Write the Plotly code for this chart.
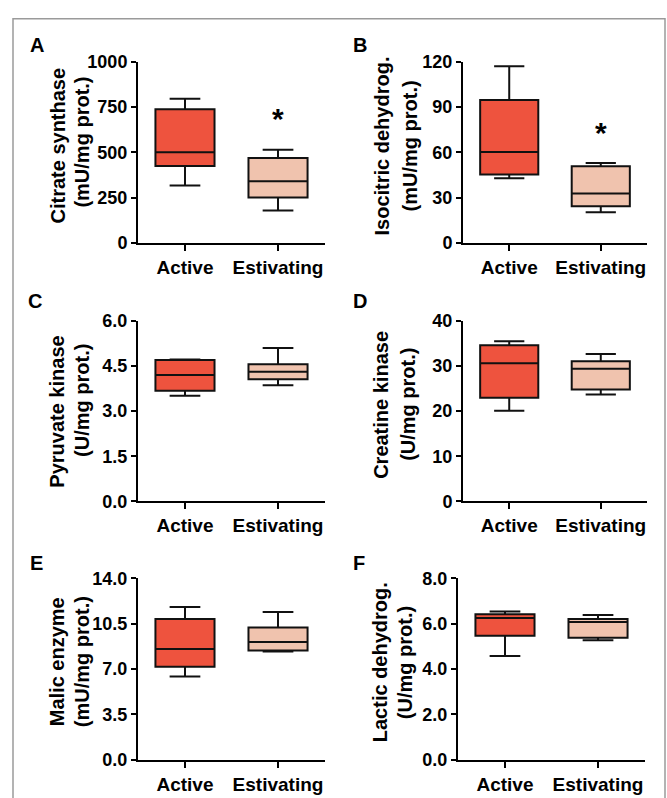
import plotly.graph_objects as go

W, H = 667, 798

groups = ["Active", "Estivating"]
colors = ["#EE533E", "#F0C3AE"]

panel_letters = ["A", "B", "C", "D", "E", "F"]
title_line1 = ["Citrate synthase", "Isocitric dehydrog.", "Pyruvate kinase",
               "Creatine kinase", "Malic enzyme", "Lactic dehydrog."]
title_line2 = ["(mU/mg prot.)", "(mU/mg prot.)", "(U/mg prot.)",
               "(U/mg prot.)", "(mU/mg prot.)", "(U/mg prot.)"]

y_max = [1000, 120, 6.0, 40, 14.0, 8.0]
y_ticks = [[0, 250, 500, 750, 1000], [0, 30, 60, 90, 120], [0, 1.5, 3.0, 4.5, 6.0],
           [0, 10, 20, 30, 40], [0, 3.5, 7.0, 10.5, 14.0], [0, 2.0, 4.0, 6.0, 8.0]]
y_fmt = ["d", "d", ".1f", "d", ".1f", ".1f"]

# [Active, Estivating] for each panel
lower = [[317, 179], [42.8, 20.4], [3.51, 3.86], [20.1, 23.7], [6.42, 8.35], [4.58, 5.27]]
q1 = [[425, 251], [45.4, 24.3], [3.68, 4.06], [23.0, 24.8], [7.17, 8.43], [5.47, 5.38]]
median = [[500, 340], [60.2, 32.7], [4.20, 4.31], [30.65, 29.4], [8.55, 9.08], [6.25, 6.08]]
q3 = [[738, 469], [94.6, 50.8], [4.70, 4.56], [34.6, 31.1], [10.86, 10.21], [6.42, 6.21]]
upper = [[796, 514], [117, 52.9], [4.72, 5.10], [35.5, 32.7], [11.79, 11.41], [6.54, 6.38]]

# significance markers: (panel index, group, y value)
stars = [(0, "Estivating", 685), (1, "Estivating", 73)]

# layout geometry in pixels: (x_left, x_right, y_top, y_bottom)
boxes_px = [(138, 325, 53, 239), (463, 647, 53, 239),
            (138, 325, 319, 504), (463, 647, 319, 504),
            (138, 325, 583, 769), (458, 645, 583, 769)]
letter_px = [(37, 36), (360, 36), (35, 298), (360, 298), (36, 567), (359, 567)]
t1_px = [(58, 139), (382, 140), (57, 412), (381, 405), (57, 669), (380, 669)]
t2_px = [(82, 136), (410, 140), (82, 401), (408, 405), (82, 669), (405, 670)]

FONT = "Liberation Sans, Arial, sans-serif"

fig = go.Figure()
layout = dict(
    width=W, height=H, margin=dict(l=0, r=0, t=0, b=0),
    paper_bgcolor="white", plot_bgcolor="white", showlegend=False,
    font=dict(family=FONT, color="black"),
)
annotations = []

for i in range(6):
    sfx = "" if i == 0 else str(i + 1)
    xl, xr, yt, yb = boxes_px[i]
    for g in range(2):
        fig.add_trace(go.Box(
            x=[groups[g]], q1=[q1[i][g]], median=[median[i][g]], q3=[q3[i][g]],
            lowerfence=[lower[i][g]], upperfence=[upper[i][g]],
            fillcolor=colors[g], line=dict(color="#111111", width=2),
            width=0.635, whiskerwidth=0.52, boxpoints=False,
            xaxis="x" + sfx, yaxis="y" + sfx, hoverinfo="skip",
        ))
    layout["xaxis" + sfx] = dict(
        domain=[xl / W, xr / W], anchor="y" + sfx, type="category",
        categoryorder="array", categoryarray=groups, range=[-0.505, 1.505],
        showline=True, linecolor="black", linewidth=2, ticks="outside",
        ticklen=6, tickwidth=2, tickcolor="black", showgrid=False, zeroline=False,
        tickfont=dict(family=FONT, size=19, color="black", weight="bold"),
    )
    layout["yaxis" + sfx] = dict(
        domain=[1 - yb / H, 1 - yt / H], anchor="x" + sfx, range=[0, y_max[i]],
        tickvals=y_ticks[i], tickformat=y_fmt[i],
        showline=True, linecolor="black", linewidth=2, ticks="outside",
        ticklen=5, tickwidth=2, tickcolor="black", showgrid=False, zeroline=False,
        tickfont=dict(family=FONT, size=18, color="black", weight="bold"),
    )
    lx, ly = letter_px[i]
    annotations.append(dict(text=panel_letters[i], x=lx / W, y=1 - ly / H,
                            xref="paper", yref="paper", showarrow=False,
                            xanchor="center", yanchor="middle",
                            font=dict(family=FONT, size=20, color="black", weight="bold")))
    for txt, (tx, ty) in ((title_line1[i], t1_px[i]), (title_line2[i], t2_px[i])):
        annotations.append(dict(text=txt, x=tx / W, y=1 - ty / H, textangle=-90,
                                xref="paper", yref="paper", showarrow=False,
                                xanchor="center", yanchor="middle",
                                font=dict(family=FONT, size=20, color="black", weight="bold")))

for (pi, grp, yv) in stars:
    sfx = "" if pi == 0 else str(pi + 1)
    annotations.append(dict(text="*", x=grp, y=yv, xref="x" + sfx, yref="y" + sfx,
                            showarrow=False, xanchor="center", yanchor="middle",
                            yshift=0,
                            font=dict(family=FONT, size=30, color="black", weight="bold")))

layout["annotations"] = annotations
layout["shapes"] = [dict(type="rect", xref="paper", yref="paper",
                         x0=13 / W, x1=665 / W, y0=-0.05, y1=1 - 9 / H,
                         line=dict(color="#9a9a9a", width=1.5), fillcolor="rgba(0,0,0,0)",
                         layer="below")]
fig.update_layout(**layout)
fig.write_html("out.html", config={"displayModeBar": False},
               post_script="document.body.style.margin='0';document.body.style.padding='0';")
